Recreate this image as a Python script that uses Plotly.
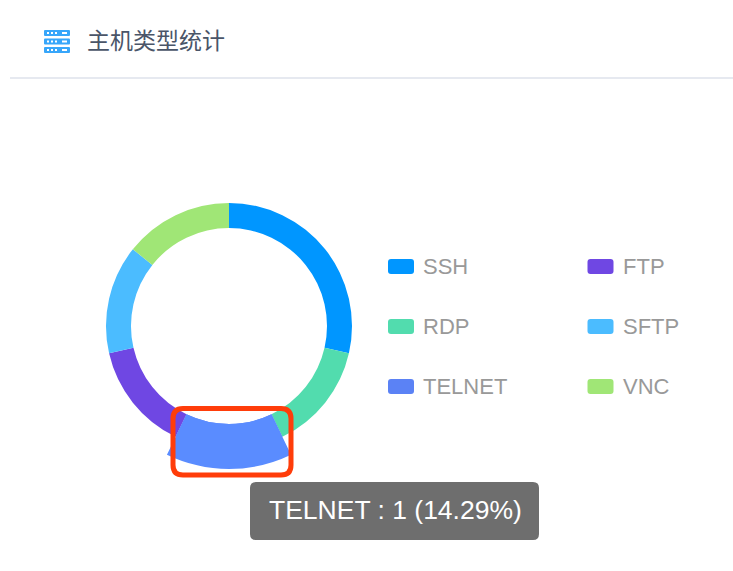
import plotly.graph_objects as go

W, H = 733, 571

# Data
labels = ["SSH", "RDP", "TELNET", "FTP", "SFTP", "VNC"]
values = [2, 1, 1, 1, 1, 1]
ring_colors = ["#0096ff", "#52dcae", "#5b82f5", "#6f47e3", "#4bbcff", "#a0e676"]
highlight_label = "TELNET"
highlight_color = "#5a8cff"
title_text = "主机类型统计"
tooltip_text = "TELNET : 1 (14.29%)"
legend_rows = [["SSH", "FTP"], ["RDP", "SFTP"], ["TELNET", "VNC"]]

CX, CY, R_OUT, R_IN, R_HI = 229, 326, 123, 98, 143


def px(x):
    return x / W


def py(y):
    return 1 - y / H


def domain(r):
    return dict(x=[px(CX - r), px(CX + r)], y=[py(CY + r), py(CY - r)])


def rrect(x0, y0, x1, y1, r):
    a, b, c, d = px(x0), px(x1), py(y0), py(y1)
    rx, ry = r / W, r / H
    return (f"M{a+rx},{c} L{b-rx},{c} Q{b},{c} {b},{c-ry} L{b},{d+ry} Q{b},{d} {b-rx},{d} "
            f"L{a+rx},{d} Q{a},{d} {a},{d+ry} L{a},{c-ry} Q{a},{c} {a+rx},{c} Z")


def rounded(x0, y0, x1, y1, r, fill=None, line=None, lw=0):
    return dict(type="path", xref="paper", yref="paper", path=rrect(x0, y0, x1, y1, r),
                fillcolor=fill or "rgba(0,0,0,0)",
                line=dict(color=line or "rgba(0,0,0,0)", width=lw), layer="above")


color_of = dict(zip(labels, ring_colors))

fig = go.Figure()
fig.add_trace(go.Pie(labels=labels, values=values, sort=False, direction="clockwise", rotation=0,
                     hole=R_IN / R_OUT, domain=domain(R_OUT), textinfo="none", showlegend=False,
                     hoverinfo="skip", marker=dict(colors=ring_colors, line=dict(width=0))))
fig.add_trace(go.Pie(labels=labels, values=values, sort=False, direction="clockwise", rotation=0,
                     hole=R_IN / R_HI, domain=domain(R_HI), textinfo="none", showlegend=False,
                     hoverinfo="skip",
                     marker=dict(colors=[highlight_color if l == highlight_label else "rgba(0,0,0,0)" for l in labels],
                                 line=dict(width=0))))

shapes, annos = [], []


def text(x, y, s, size, color, family='"Liberation Sans", Arial, sans-serif', anchor="left"):
    annos.append(dict(x=px(x), y=py(y), xref="paper", yref="paper", text=s, showarrow=False,
                      xanchor=anchor, yanchor="middle", xshift=0, yshift=0, borderpad=0,
                      font=dict(size=size, color=color, family=family)))


# Header icon, title and divider
for y0 in (30, 38.5, 47):
    shapes.append(rounded(44, y0, 70, y0 + 6, 1, fill="#37a6fa"))
    for dx in (47, 51, 55):
        shapes.append(dict(type="rect", xref="paper", yref="paper", x0=px(dx), x1=px(dx + 2),
                           y0=py(y0 + 4), y1=py(y0 + 2), fillcolor="white", line=dict(width=0), layer="above"))
    shapes.append(dict(type="rect", xref="paper", yref="paper", x0=px(62), x1=px(67),
                       y0=py(y0 + 4), y1=py(y0 + 2), fillcolor="white", line=dict(width=0), layer="above"))
text(85.5, 39, title_text, 23, "#4a5568", family='"Noto Sans CJK SC", sans-serif')
shapes.append(dict(type="rect", xref="paper", yref="paper", x0=px(10), x1=1, y0=py(79), y1=py(77),
                   fillcolor="#e6e9f0", line=dict(width=0), layer="above"))

# Legend
for i, row in enumerate(legend_rows):
    yc = 266.5 + 60 * i
    for j, name in enumerate(row):
        x0 = 388 + 199.5 * j
        shapes.append(rounded(x0, yc - 7.5, x0 + 26, yc + 7.5, 3, fill=color_of[name]))
        text(x0 + 34, yc, name, 22, "#999999")

# Highlight frame
shapes.append(rounded(173, 408.5, 291, 475, 10, line="#ff3d0a", lw=5))

# Tooltip
shapes.append(rounded(250, 482, 539, 540, 6, fill="#6e6e6e"))
text(395, 510, tooltip_text, 26.5, "#ffffff", anchor="center")

fig.update_layout(width=W, height=H, margin=dict(l=0, r=0, t=0, b=0), paper_bgcolor="white",
                  plot_bgcolor="white", showlegend=False, shapes=shapes, annotations=annos)
fig.write_html("out.html", config=dict(displayModeBar=False),
               post_script="document.body.style.margin='0';document.documentElement.style.overflow='hidden';")
